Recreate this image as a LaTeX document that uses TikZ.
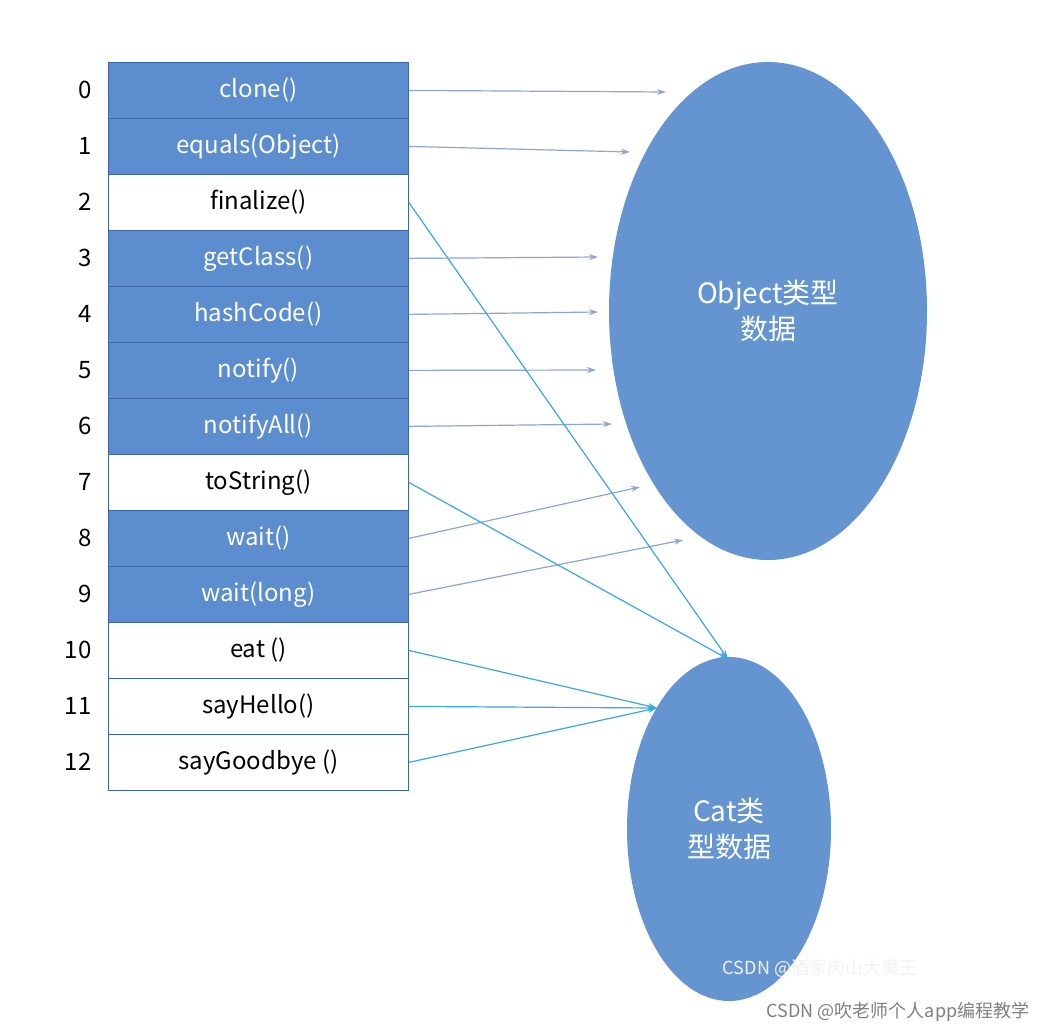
\documentclass[tikz,border=0pt]{standalone}
\usepackage{fontspec}
\setmainfont{Noto Sans CJK SC}
\usetikzlibrary{arrows.meta,shapes.geometric}
\definecolor{cellblue}{RGB}{91,141,207}
\definecolor{cellline}{RGB}{60,100,170}
\definecolor{ellblue}{RGB}{100,149,208}
\definecolor{arrA}{RGB}{140,165,215}
\definecolor{arrB}{RGB}{60,165,230}
\begin{document}
\begin{tikzpicture}[x=1pt,y=-1pt,
  cell/.style={draw=cellline,line width=0.8pt,minimum width=300pt,minimum height=56pt,inner sep=0pt,font=\fontsize{24}{28}\selectfont,anchor=north west},
  bcell/.style={cell,fill=cellblue,text=white},
  wcell/.style={cell,fill=white,text=black},
  idx/.style={font=\fontsize{24}{28}\selectfont},
  ell/.style={ellipse,fill=ellblue,text=white,font=\fontsize{28}{36}\selectfont,align=center,inner sep=0pt},
  oa/.style={draw=arrA,line width=1.2pt,-{Stealth[length=9pt,width=6pt]}},
  ca/.style={draw=arrB,line width=1.2pt,-{Stealth[length=9pt,width=6pt]}}]
\useasboundingbox (0,0) rectangle (1040,1032);
\fill[white] (0,0) rectangle (1040,1032);
\def\names{clone(),equals(Object),finalize(),getClass(),hashCode(),notify(),notifyAll(),toString(),wait(),wait(long),eat (),sayHello(),sayGoodbye ()}
\foreach \n [count=\i from 0] in \names {
  \pgfmathsetmacro{\yy}{62+56*\i}
  \ifnum\i=2 \def\st{wcell}\else\ifnum\i=7 \def\st{wcell}\else\ifnum\i>9 \def\st{wcell}\else\def\st{bcell}\fi\fi\fi
  \node[\st] (c\i) at (108,\yy) {\n};
  \node[idx,anchor=east] (i\i) at (95,\yy+28) {\i};
}
\node[ell,minimum width=318pt,minimum height=498pt] (obj) at (768,311) {Object类型\\数据};
\node[ell,minimum width=204pt,minimum height=344pt] (cat) at (729,829) {Cat类\\型数据};
\coordinate (t0) at (666,92);
\coordinate (t1) at (630,152);
\coordinate (t3) at (598,257);
\coordinate (t4) at (598,312);
\coordinate (t5) at (596,370);
\coordinate (t6) at (612,424);
\coordinate (t8) at (640,487);
\coordinate (t9) at (683,540);
\coordinate (ct) at (728,659);
\coordinate (cl) at (657,708);
\foreach \i in {0,1,3,4,5,6,8,9} \draw[oa] (c\i.east) -- (t\i);
\draw[ca] (c2.east) -- (ct);
\draw[ca] (c7.east) -- (ct);
\foreach \i in {10,11,12} \draw[ca] (c\i.east) -- (cl);
\node[text=white!90!gray,font=\fontsize{18}{20}\selectfont] (w1) at (820,968) {CSDN @酒家肉山大魔王};
\node[text=gray,font=\fontsize{18}{20}\selectfont] (w2) at (898,1012) {CSDN @吹老师个人app编程教学};
\end{tikzpicture}
\end{document}
